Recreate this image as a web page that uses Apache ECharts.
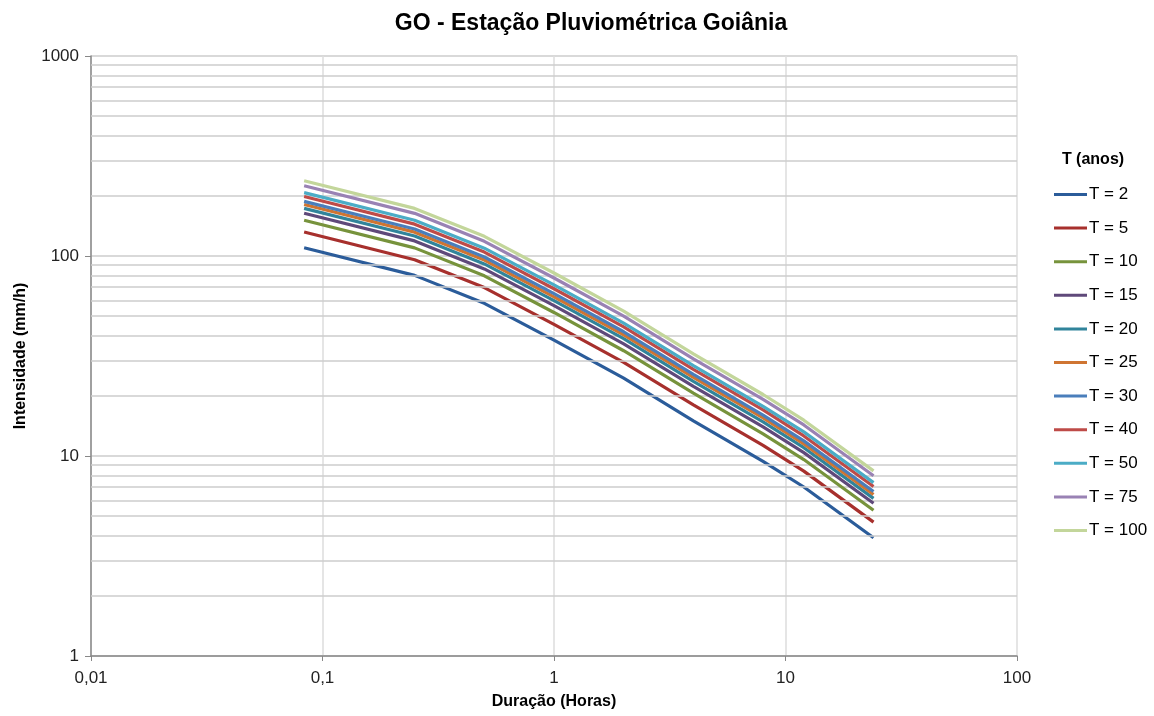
<!DOCTYPE html>
<html>
<head>
<meta charset="utf-8">
<script src="https://cdn.jsdelivr.net/npm/echarts@6/dist/echarts.min.js"></script>
<style>html,body{margin:0;padding:0;background:#fff}#c{width:1154px;height:716px}</style>
</head>
<body>
<div id="c"></div>
<script>
// Duration (hours)
const durations = [0.0833, 0.25, 0.5, 1, 2, 4, 8, 12, 24];
// Return periods (legend names)
const seriesNames = ['T = 2','T = 5','T = 10','T = 15','T = 20','T = 25','T = 30','T = 40','T = 50','T = 75','T = 100'];
// Intensity (mm/h) per series
const t2   = [110.0, 80.0, 58.0, 38.0, 24.5, 15.0, 9.4, 7.0, 3.90];
const t5   = [131.8, 95.8, 69.5, 45.5, 29.4, 18.0, 11.3, 8.4, 4.67];
const t10  = [151.0, 109.8, 79.6, 52.2, 33.6, 20.6, 12.9, 9.6, 5.35];
const t15  = [163.6, 119.0, 86.2, 56.5, 36.4, 22.3, 14.0, 10.4, 5.80];
const t20  = [173.1, 125.9, 91.3, 59.8, 38.6, 23.6, 14.8, 11.0, 6.14];
const t25  = [181.0, 131.6, 95.4, 62.5, 40.3, 24.7, 15.5, 11.5, 6.42];
const t30  = [187.6, 136.4, 98.9, 64.8, 41.8, 25.6, 16.0, 11.9, 6.65];
const t40  = [198.4, 144.3, 104.6, 68.6, 44.2, 27.1, 17.0, 12.6, 7.04];
const t50  = [207.5, 150.9, 109.4, 71.7, 46.2, 28.3, 17.7, 13.2, 7.36];
const t75  = [224.6, 163.4, 118.4, 77.6, 50.0, 30.6, 19.2, 14.3, 7.96];
const t100 = [237.8, 173.0, 125.4, 82.2, 53.0, 32.4, 20.3, 15.1, 8.43];
const allValues = [t2,t5,t10,t15,t20,t25,t30,t40,t50,t75,t100];
const colors = ['#2B5C9A','#A7302D','#77933C','#5F497A','#31849B','#CF7532','#4A7EBB','#BE4B48','#4BACC6','#9982B4','#C3D69B'];
// Minor horizontal grid values
const minorGrid = [2,3,4,5,6,7,8,9,20,30,40,50,60,70,80,90,200,300,400,500,600,700,800,900];
const xTickLabels = {0.01:'0,01',0.1:'0,1',1:'1',10:'10',100:'100'};
const yTickLabels = {1:'1',10:'10',100:'100',1000:'1000'};

const FONT = 'Liberation Sans, Arial, sans-serif';
const chart = echarts.init(document.getElementById('c'), null, {renderer:'canvas'});
const series = seriesNames.map((n,i)=>({
  name:n, type:'line', symbol:'none', smooth:false,
  data: durations.map((d,j)=>[d, allValues[i][j]]),
  lineStyle:{width:3.2, color:colors[i]}, itemStyle:{color:colors[i]},
  z: 3 + i
}));
series.unshift({
  name:'_grid', type:'line', data:[], silent:true, z:1,
  markLine:{silent:true, symbol:'none', label:{show:false},
    lineStyle:{color:'#cccccc', width:1.5, type:'solid'},
    data: minorGrid.map(v=>({yAxis:v}))}
});
chart.setOption({
  animation:false,
  backgroundColor:'#fff',
  title:[
    {text:'GO - Estação Pluviométrica Goiânia', left:586, top:7, textAlign:'center',
     textStyle:{fontFamily:FONT, fontSize:23, fontWeight:'bold', color:'#000'}},
    {text:'T (anos)', left:1088, top:147, textAlign:'center',
     textStyle:{fontFamily:FONT, fontSize:16, fontWeight:'bold', color:'#000'}}
  ],
  legend:{
    orient:'vertical', left:1049, top:181, itemWidth:33, itemHeight:3, itemGap:16.6,
    data: seriesNames,
    icon:'rect',
    textStyle:{fontFamily:FONT, fontSize:17, color:'#000', padding:[0,0,0,-3]}
  },
  grid:{left:91, right:137, top:56, bottom:60, containLabel:false},
  xAxis:{
    type:'log', logBase:10, min:0.01, max:100,
    name:'Duração (Horas)', nameLocation:'middle', nameGap:38,
    nameTextStyle:{fontFamily:FONT, fontSize:16, fontWeight:'bold', color:'#000'},
    axisLine:{lineStyle:{color:'#888', width:1.5}},
    axisTick:{show:true, length:5, inside:false, lineStyle:{color:'#888'}},
    axisLabel:{fontFamily:FONT, fontSize:17, color:'#222', margin:14,
      formatter:v=>xTickLabels[v] !== undefined ? xTickLabels[v] : (''+v).replace('.',',')},
    splitLine:{show:true, lineStyle:{color:'#dddddd', width:1.5}}
  },
  yAxis:{
    type:'log', logBase:10, min:1, max:1000,
    name:'Intensidade (mm/h)', nameLocation:'middle', nameGap:62, nameRotate:90,
    nameTextStyle:{fontFamily:FONT, fontSize:16, fontWeight:'bold', color:'#000'},
    axisLine:{show:true, lineStyle:{color:'#888', width:1.5}},
    axisTick:{show:true, length:6, lineStyle:{color:'#888'}},
    axisLabel:{fontFamily:FONT, fontSize:17, color:'#222', margin:12,
      formatter:v=>yTickLabels[v] !== undefined ? yTickLabels[v] : ''+v},
    splitLine:{show:true, lineStyle:{color:'#cccccc', width:1.5}}
  },
  series: series
});
</script>
</body>
</html>
